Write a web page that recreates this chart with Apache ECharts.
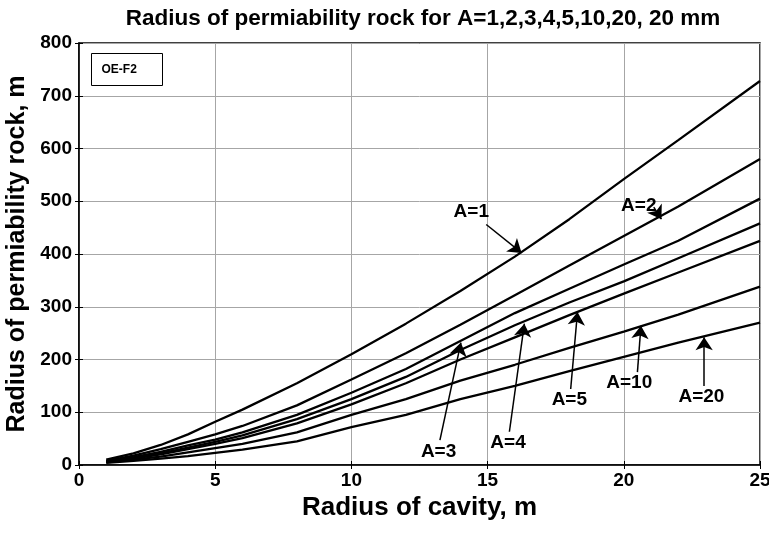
<!DOCTYPE html>
<html>
<head>
<meta charset="utf-8">
<script src="https://cdn.jsdelivr.net/npm/echarts@6/dist/echarts.min.js"></script>
<style>
  html, body { margin: 0; padding: 0; background: #fff; }
  #c1 { width: 769px; height: 547px; }
</style>
</head>
<body>
<div id="c1"></div>
<script>
// radius of cavity, m
const radius = [1, 2, 3, 4, 5, 6, 8, 10, 12, 14, 16, 18, 20, 22, 25]
// radius of permiability rock, m
const rA1 = [10, 22, 38, 58, 82, 105, 155, 210, 268, 330, 395, 466, 542, 616, 728]
const rA2 = [8, 18, 30, 44, 58, 74, 113, 162, 212, 266, 322, 378, 434, 490, 580]
const rA3 = [7, 15, 25, 37, 48, 62, 95, 137, 182, 235, 288, 334, 380, 425, 505]
const rA4 = [6, 13, 22, 33, 44, 56, 87, 125, 167, 218, 265, 308, 348, 392, 458]
const rA5 = [6, 12, 20, 30, 40, 51, 79, 115, 155, 200, 242, 284, 325, 365, 425]
const rA10 = [5, 10, 16, 24, 32, 40, 62, 95, 125, 160, 190, 222, 253, 285, 338]
const rA20 = [4, 8, 12, 17, 23, 29, 45, 72, 95, 125, 150, 178, 205, 232, 270]

const names = ['A=1', 'A=2', 'A=3', 'A=4', 'A=5', 'A=10', 'A=20']
const values = [rA1, rA2, rA3, rA4, rA5, rA10, rA20]

// annotation: label position, arrow start, arrow end (data coords)
const notes = [
  { text: 'A=1', at: [14.4, 481], from: [14.95, 456], to: [16.25, 402] },
  { text: 'A=2', at: [20.55, 492], from: [21.1, 489], to: [21.38, 466] },
  { text: 'A=3', at: [13.2, 26], from: [13.25, 47], to: [14.02, 232] },
  { text: 'A=4', at: [15.75, 42], from: [15.8, 63], to: [16.35, 268] },
  { text: 'A=5', at: [18.0, 123], from: [18.05, 144], to: [18.3, 290] },
  { text: 'A=10', at: [20.2, 155], from: [20.5, 176], to: [20.63, 264] },
  { text: 'A=20', at: [22.85, 129], from: [22.95, 150], to: [22.95, 242] }
]

const font = 'Liberation Sans, Arial, sans-serif'

const myChart = echarts.init(document.getElementById('c1'))

const series = values.map((v, i) => ({
  name: names[i],
  type: 'line',
  data: v.map((y, j) => [radius[j], y]),
  showSymbol: false,
  lineStyle: { color: '#000', width: 2.3 },
  z: 3
}))

series.push({
  type: 'line',
  data: [],
  markLine: {
    silent: true,
    symbol: ['none', 'arrow'],
    symbolSize: 13,
    lineStyle: { color: '#000', width: 1.5, type: 'solid' },
    itemStyle: { color: '#000' },
    label: { show: false },
    data: notes.map(n => [{ coord: n.from }, { coord: n.to }])
  },
  markPoint: {
    silent: true,
    symbol: 'rect',
    symbolSize: 1,
    itemStyle: { color: 'rgba(0,0,0,0)' },
    label: {
      show: true,
      position: 'inside',
      color: '#000',
      fontFamily: font,
      fontWeight: 'bold',
      fontSize: 19,
      formatter: p => p.name
    },
    data: notes.map(n => ({ name: n.text, coord: n.at }))
  }
})

const option = {
  backgroundColor: '#fff',
  animation: false,
  title: {
    text: 'Radius of permiability rock for A=1,2,3,4,5,10,20, 20 mm',
    left: 418,
    textAlign: 'center',
    top: 2,
    textStyle: { fontFamily: font, fontWeight: 'bold', fontSize: 22.5, color: '#000' }
  },
  grid: {
    left: 79,
    right: 9,
    top: 43,
    bottom: 82,
    containLabel: false,
    outerBoundsMode: 'none',
    show: true,
    borderColor: '#000',
    borderWidth: 1.5
  },
  xAxis: [{
    type: 'value',
    min: 0,
    max: 25,
    interval: 5,
    name: 'Radius of cavity, m',
    nameLocation: 'middle',
    nameGap: 30,
    nameTextStyle: { fontFamily: font, fontWeight: 'bold', fontSize: 26, color: '#000' },
    axisLine: { lineStyle: { color: '#000', width: 1.5 } },
    axisTick: { inside: true, length: 4, lineStyle: { color: '#000' } },
    axisLabel: { fontFamily: font, fontWeight: 'bold', fontSize: 19, color: '#000', margin: 6 },
    splitLine: { lineStyle: { color: '#a6a6a6', width: 1 } }
  }, {
    type: 'value',
    position: 'top',
    min: 0,
    max: 25,
    interval: 5,
    axisLine: { show: false },
    axisTick: { inside: true, length: 4, lineStyle: { color: '#000' } },
    axisLabel: { show: false },
    splitLine: { show: false }
  }],
  yAxis: [{
    type: 'value',
    min: 0,
    max: 800,
    interval: 100,
    name: 'Radius of permiability rock, m',
    nameLocation: 'middle',
    nameGap: 49,
    nameTextStyle: { fontFamily: font, fontWeight: 'bold', fontSize: 25, color: '#000' },
    axisLine: { show: true, lineStyle: { color: '#000', width: 1.5 } },
    axisTick: { show: true, inside: true, length: 4, lineStyle: { color: '#000' } },
    axisLabel: { fontFamily: font, fontWeight: 'bold', fontSize: 19, color: '#000', margin: 7 },
    splitLine: { lineStyle: { color: '#a6a6a6', width: 1 } }
  }, {
    type: 'value',
    position: 'right',
    min: 0,
    max: 800,
    interval: 100,
    axisLine: { show: false },
    axisTick: { show: true, inside: true, length: 4, lineStyle: { color: '#000' } },
    axisLabel: { show: false },
    splitLine: { show: false }
  }],
  graphic: [{
    type: 'group',
    left: 91,
    top: 53,
    children: [
      { type: 'rect', shape: { x: 0, y: 0, width: 71, height: 32 }, style: { fill: '#fff', stroke: '#000', lineWidth: 1 } },
      { type: 'text', style: { x: 10, y: 16, text: 'OE-F2', verticalAlign: 'middle', font: 'bold 12px ' + font, fill: '#000' } }
    ]
  }],
  series
}

option && myChart.setOption(option)
</script>
</body>
</html>
